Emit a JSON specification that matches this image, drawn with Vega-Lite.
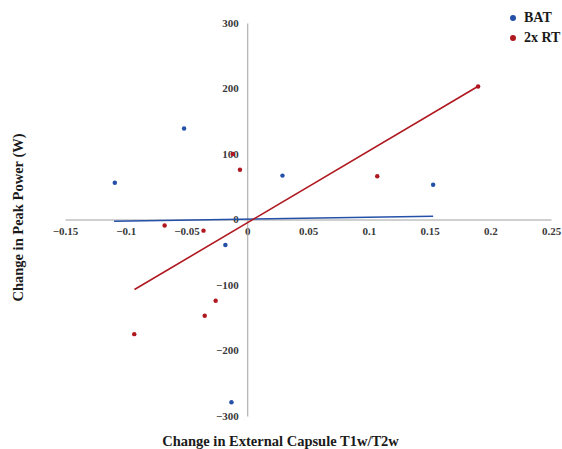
{
  "$schema": "https://vega.github.io/schema/vega-lite/v6.json",
  "autosize": {"type": "none"},
  "padding": {"left": 65, "top": 23, "right": 11, "bottom": 33},
  "width": 486,
  "height": 393,
  "background": "white",
  "config": {
    "view": {"stroke": null},
    "font": "Liberation Serif",
    "axis": {"grid": false, "ticks": false, "domainColor": "#a0a0a0", "domainWidth": 1, "labelFont": "Liberation Serif", "labelFontWeight": "bold", "labelFontSize": 11, "labelColor": "#3a3a3a", "titleFont": "Liberation Serif", "titleFontWeight": "bold", "titleFontSize": 14.5, "titleColor": "#1a1a1a"},
    "legend": {"labelFont": "Liberation Serif", "labelFontWeight": "bold", "labelFontSize": 14, "labelColor": "#1a1a1a"}
  },
  "datasets": {
    "points": [
      {"group": "BAT", "x": -0.109, "y": 56},
      {"group": "BAT", "x": -0.052, "y": 139},
      {"group": "BAT", "x": 0.029, "y": 67},
      {"group": "BAT", "x": -0.018, "y": -39},
      {"group": "BAT", "x": -0.013, "y": -279},
      {"group": "BAT", "x": 0.153, "y": 53},
      {"group": "2x RT", "x": -0.012, "y": 100},
      {"group": "2x RT", "x": -0.006, "y": 76},
      {"group": "2x RT", "x": -0.068, "y": -9},
      {"group": "2x RT", "x": -0.036, "y": -17},
      {"group": "2x RT", "x": -0.026, "y": -124},
      {"group": "2x RT", "x": -0.035, "y": -147},
      {"group": "2x RT", "x": -0.093, "y": -175},
      {"group": "2x RT", "x": 0.107, "y": 66},
      {"group": "2x RT", "x": 0.19, "y": 203}
    ],
    "trends": [
      {"group": "BAT", "x": -0.1096, "y": -2.6},
      {"group": "BAT", "x": 0.153, "y": 5.0},
      {"group": "2x RT", "x": -0.0928, "y": -106.9},
      {"group": "2x RT", "x": 0.1897, "y": 203}
    ]
  },
  "layer": [
    {
      "data": {"name": "points"},
      "mark": {"type": "circle", "size": 20, "opacity": 1},
      "encoding": {
        "x": {"field": "x", "type": "quantitative", "scale": {"domain": [-0.15, 0.25], "nice": false, "zero": false},
          "axis": {"orient": "bottom", "offset": -196.5, "format": ".2~f", "values": [-0.15, -0.1, -0.05, 0, 0.05, 0.1, 0.15, 0.2, 0.25], "labelPadding": 6, "labelFlush": false, "labelOverlap": false,
            "title": "Change in External Capsule T1w/T2w", "titleX": 215, "titleY": 222, "titleBaseline": "middle", "titleAnchor": null, "titleAlign": "center"}},
        "y": {"field": "y", "type": "quantitative", "scale": {"domain": [-300, 300], "nice": false},
          "axis": {"orient": "left", "offset": -182.25, "values": [-300, -200, -100, 0, 100, 200, 300], "labelPadding": 9, "labelFlush": false, "labelOverlap": false,
            "title": "Change in Peak Power (W)", "titleX": -229, "titleY": 194, "titleBaseline": "middle", "titleAlign": "center", "titleAngle": -90, "titleAnchor": null}},
        "color": {"field": "group", "type": "nominal", "scale": {"domain": ["BAT", "2x RT"], "range": ["#2450a8", "#b01820"]},
          "legend": {"orient": "none", "legendX": 441, "legendY": -12, "symbolSize": 20, "symbolType": "circle", "rowPadding": 6, "labelOffset": 4, "title": null}}
      }
    },
    {
      "data": {"name": "trends"},
      "mark": {"type": "line", "strokeWidth": 1.6},
      "encoding": {
        "x": {"field": "x", "type": "quantitative"},
        "y": {"field": "y", "type": "quantitative"},
        "stroke": {"field": "group", "type": "nominal", "scale": {"domain": ["BAT", "2x RT"], "range": ["#2450a8", "#b01820"]}, "legend": null},
        "detail": {"field": "group"}
      }
    }
  ]
}
